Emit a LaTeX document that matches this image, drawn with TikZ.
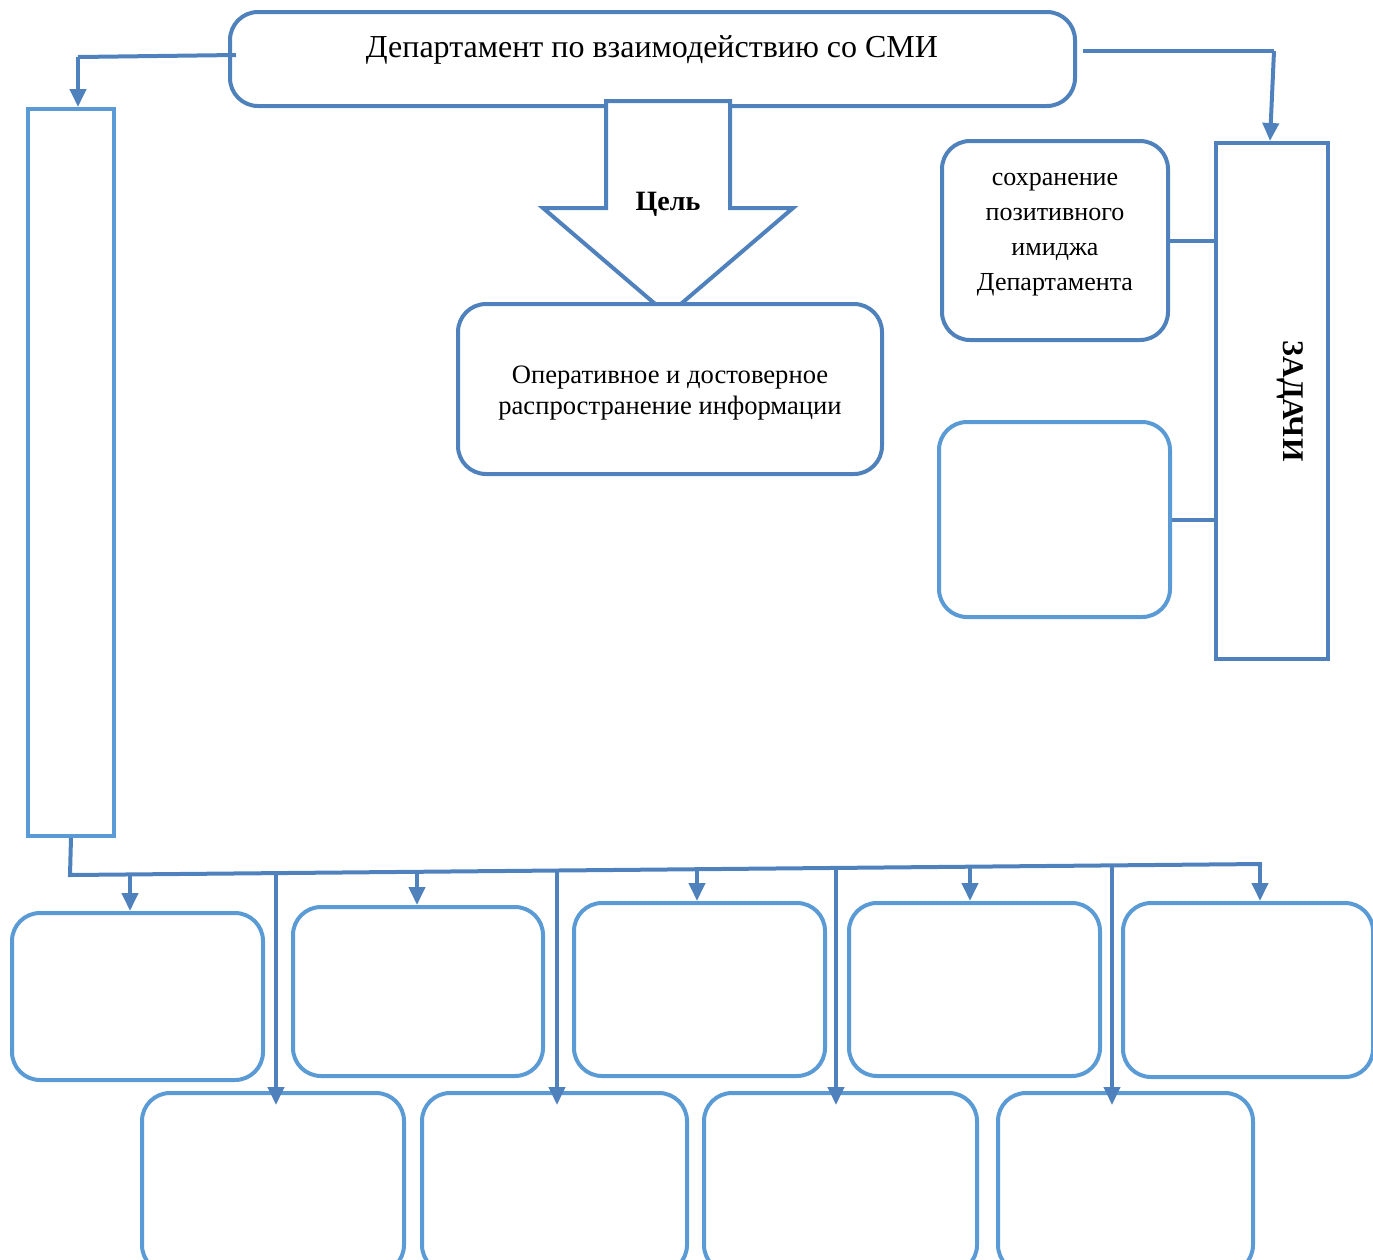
\documentclass[tikz,border=0pt]{standalone}
\usepackage{fontspec}
\setmainfont{Liberation Serif}
\usetikzlibrary{arrows.meta}
\definecolor{darkblue}{RGB}{79,129,189}
\definecolor{lightblue}{RGB}{91,155,213}

\begin{document}
\begin{tikzpicture}[x=0.5pt,y=-0.5pt,
    box/.style={draw=darkblue,line width=2pt,rounded corners=14pt,fill=white,inner sep=0pt,align=center},
    lbox/.style={box,draw=lightblue},
    link/.style={darkblue,line width=2pt},
    arr/.style={link,-{Triangle[length=9pt,width=8pt]}}]
  \useasboundingbox (0,0) rectangle (1373,1260);
  \clip (0,0) rectangle (1373,1260);

  % top: department
  \node[box,minimum width=422.5pt,minimum height=47pt] (dept) at (652.5,59) {};
  \node[font=\fontsize{16}{19}\selectfont] (depttext) at (652,50) {Департамент по взаимодействию со СМИ};

  % goal arrow
  \draw[link,fill=white] (606,101) -- (606,208) -- (543,208) -- (668,315)
    -- (793,208) -- (730,208) -- (730,101) -- cycle;
  \node[font=\fontsize{14}{17}\selectfont\bfseries] (goal) at (668,204) {Цель};
  \node[box,minimum width=212pt,minimum height=85pt] (aim) at (670,389) {};
  \node[align=center,font=\fontsize{13.3}{15.5}\selectfont] (aimtext) at (670,393)
    {Оперативное и достоверное\\распространение информации};

  % tasks
  \node[box,sharp corners,minimum width=56pt,minimum height=258pt] (tasks) at (1272,401) {};
  \node[rotate=-90,font=\fontsize{15}{18}\selectfont\bfseries] (taskstext) at (1290,401) {ЗАДАЧИ};
  \node[box,minimum width=113pt,minimum height=99.5pt] (image) at (1055,240.5) {};
  \node[align=center,font=\fontsize{13}{17.5}\selectfont] (imagetext) at (1055,235)
    {сохранение\\позитивного\\имиджа\\Департамента};
  \node[lbox,minimum width=115.5pt,minimum height=97.5pt] (task2) at (1054.5,519.5) {};

  % left column
  \node[lbox,sharp corners,minimum width=43pt,minimum height=363.5pt] (column) at (71,472.5) {};

  % lower boxes
  \node[lbox,minimum width=125.5pt,minimum height=83.5pt] (a1) at (137.5,996.5) {};
  \node[lbox,minimum width=125pt,minimum height=84.5pt] (a2) at (418,991.5) {};
  \node[lbox,minimum width=125.5pt,minimum height=86.5pt] (a3) at (699.5,989.5) {};
  \node[lbox,minimum width=125.5pt,minimum height=86.5pt] (a4) at (974.5,989.5) {};
  \node[lbox,minimum width=125pt,minimum height=87pt] (a5) at (1248,990) {};
  \node[lbox,minimum width=131pt,minimum height=90pt] (b1) at (273,1183) {};
  \node[lbox,minimum width=132.5pt,minimum height=90pt] (b2) at (554.5,1183) {};
  \node[lbox,minimum width=136.5pt,minimum height=90pt] (b3) at (840.5,1183) {};
  \node[lbox,minimum width=127.5pt,minimum height=90pt] (b4) at (1125.5,1183) {};

  % connectors
  \coordinate (lbend) at (78,57);
  \coordinate (rbend) at (1274,51);
  \coordinate (busL) at (70,875);
  \coordinate (busR) at (1262,864);
  \draw[link] ([xshift=4pt]dept.west |- 0,55) -- (lbend);
  \draw[arr] (lbend) -- (lbend |- column.north);
  \draw[link] ([xshift=3pt]dept.east |- rbend) -- (rbend);
  \draw[arr] (rbend) -- ([xshift=-2pt]rbend |- tasks.north);
  \draw[link] (image.east) -- (image.east -| tasks.west);
  \draw[link] (task2.east) -- (task2.east -| tasks.west);
  \draw[link] (column.south) -- (busL) -- (busR);
  \foreach \n/\x in {a1/130,a2/417,a3/697,a4/970,a5/1260}
    \draw[arr] (\x,{875-(\x-70)*11/1192}) -- (\x,0 |- \n.north);
  \foreach \n/\x in {b1/276,b2/557,b3/836,b4/1112}
    \draw[arr,shorten >=-7pt] (\x,{875-(\x-70)*11/1192}) -- (\x,0 |- \n.north);
\end{tikzpicture}
\end{document}
